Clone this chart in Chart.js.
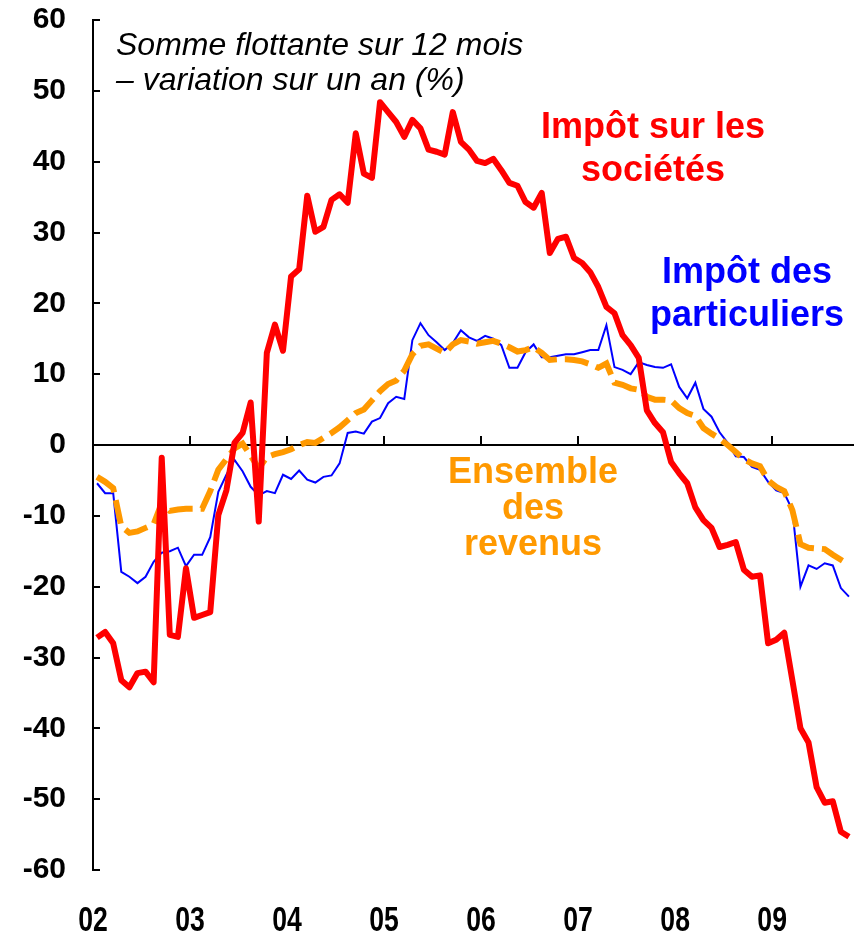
<!DOCTYPE html>
<html>
<head>
<meta charset="utf-8">
<script src="https://cdn.jsdelivr.net/npm/chart.js@4.4.0/dist/chart.umd.min.js"></script>
<style>
    body { margin: 0; background: #fff; }
</style>
</head>
<body>
<canvas id="taxChart" width="860" height="936"></canvas>
<script>
// monthly values, Jan 2002 onwards
const yearLabels = ['02', '03', '04', '05', '06', '07', '08', '09'];

const corporateTax = [
    -27.2, -26.4, -28, -33.2, -34.2, -32.2, -32, -33.5, -1.8, -26.8,
    -27.1, -17.4, -24.4, -24, -23.6, -9.9, -6.4, 0.3, 1.7, 6,
    -10.8, 13, 17, 13.3, 23.8, 24.8, 35.2, 30.1, 30.8, 34.6,
    35.4, 34.2, 44, 38.3, 37.7, 48.4, 47, 45.6, 43.5, 45.9,
    44.7, 41.7, 41.4, 41, 47, 42.8, 41.7, 40.1, 39.8, 40.4,
    38.8, 37, 36.6, 34.3, 33.5, 35.6, 27.1, 29.1, 29.4, 26.4,
    25.7, 24.4, 22.3, 19.5, 18.6, 15.5, 14.1, 12.3, 4.9, 3.1,
    1.8, -2.4, -4, -5.4, -8.8, -10.6, -11.7, -14.4, -14.1, -13.7,
    -17.6, -18.6, -18.4, -28, -27.5, -26.5, -33.2, -40, -42, -48.3,
    -50.5, -50.3, -54.6, -55.3
];

const personalTax = [
    -5.4, -6.8, -6.8, -17.9, -18.6, -19.5, -18.6, -16.5, -15.2, -15,
    -14.5, -17.1, -15.5, -15.5, -13, -6.6, -4.2, -2.1, -3.7, -5.9,
    -7.1, -6.5, -6.8, -4.2, -4.8, -3.6, -4.9, -5.3, -4.5, -4.3,
    -2.6, 1.7, 1.9, 1.6, 3.3, 3.8, 5.9, 6.8, 6.5, 14.8,
    17.2, 15.5, 14.5, 13.4, 14.4, 16.2, 15.2, 14.7, 15.4, 15,
    14.1, 10.9, 10.9, 13.1, 14.2, 12.4, 12.4, 12.6, 12.8, 12.8,
    13.1, 13.4, 13.4, 16.9, 11, 10.6, 10, 11.7, 11.3, 11,
    10.9, 11.4, 8.2, 6.6, 8.8, 5.1, 4, 1.8, 0.3, -1.6,
    -1.7, -3.1, -3.5, -5.2, -6.4, -6.8, -9.2, -20, -17, -17.5,
    -16.7, -17, -20.2, -21.4
];

const totalRevenue = [
    -4.5, -5.2, -6.1, -11.5, -12.4, -12.2, -11.7, -11.2, -8.2, -9.3,
    -9.1, -9, -9, -9, -6.5, -3.5, -2, -0.5, 0.2, -1.5,
    -3.3, -1.7, -1.3, -1, -0.6, 0, 0.4, 0.3, 1, 1.7,
    2.5, 3.5, 4.5, 5, 6.3, 7.6, 8.6, 9.1, 10.5, 12.8,
    14, 14.2, 13.6, 13, 14.2, 14.8, 14.6, 14.3, 14.5, 14.7,
    14.3, 13.8, 13.2, 13.4, 13.8, 13, 12, 12.1, 12.1, 12,
    11.8, 11.4, 10.9, 11.5, 8.8, 8.5, 8, 7.8, 6.8, 6.4,
    6.4, 6.3, 5.2, 4.5, 4.1, 2.4, 1.6, 0.9, 0, -1,
    -2, -2.6, -3, -5, -5.9, -6.5, -9.2, -14, -14.5, -14.6,
    -14.7, -15.5, -16.2, -16.9
];

// points sit mid-month, year ticks every 12 months
let toPoints = function (values) {
    return values.map((v, i) => ({x: i + 0.5, y: v}));
};

let yearTicks = function (scale) {
    scale.ticks = yearLabels.map((lbl, k) => ({value: k * 12}));
};

const textPlugin = {
    id: 'chartTexts',
    afterDraw(chart) {
        const ctx = chart.ctx;
        ctx.save();
        ctx.textBaseline = 'alphabetic';

        // year labels, narrow bold (drawn squeezed, no narrow font installed)
        let xScale = chart.scales.x;
        ctx.fillStyle = '#000';
        ctx.textAlign = 'center';
        ctx.font = 'bold 35px "Liberation Sans", Arial, sans-serif';
        yearLabels.forEach((lbl, k) => {
            let px = xScale.getPixelForValue(k * 12);
            ctx.save();
            ctx.translate(px, 931);
            ctx.scale(0.76, 1);
            ctx.fillText(lbl, 0, 0);
            ctx.restore();
        });

        ctx.textAlign = 'left';
        ctx.font = 'italic 32px "Liberation Sans", Arial, sans-serif';
        ctx.fillText('Somme flottante sur 12 mois', 116, 55);
        ctx.fillText('\u2013 variation sur un an (%)', 116, 90);

        ctx.textAlign = 'center';
        ctx.font = 'bold 36px "Liberation Sans", Arial, sans-serif';
        ctx.fillStyle = '#FF0000';
        ctx.fillText('Impôt sur les', 653, 138);
        ctx.fillText('sociétés', 653, 181);

        ctx.fillStyle = '#0000FF';
        ctx.fillText('Impôt des', 747, 283);
        ctx.fillText('particuliers', 747, 326);

        ctx.fillStyle = '#FF9900';
        ctx.fillText('Ensemble', 533, 483);
        ctx.fillText('des', 533, 519);
        ctx.fillText('revenus', 533, 555);
        ctx.restore();
    }
};

let canvas = document.getElementById('taxChart');
let taxChart = new Chart(canvas, {
    type: 'line',
    data: {
        datasets: [
            {
                label: 'Impôt sur les sociétés',
                data: toPoints(corporateTax),
                borderColor: '#FF0000',
                borderWidth: 6,
                borderJoinStyle: 'round',
                pointRadius: 0,
                tension: 0,
                fill: false
            },
            {
                label: 'Ensemble des revenus',
                data: toPoints(totalRevenue),
                borderColor: '#FF9900',
                borderWidth: 6,
                borderDash: [24, 8],
                pointRadius: 0,
                tension: 0,
                fill: false
            },
            {
                label: 'Impôt des particuliers',
                data: toPoints(personalTax),
                borderColor: '#0000FF',
                borderWidth: 2,
                pointRadius: 0,
                tension: 0,
                fill: false
            }
        ]
    },
    plugins: [textPlugin],
    options: {
        responsive: false,
        animation: false,
        devicePixelRatio: 1,
        layout: {padding: {left: 0, top: 20, right: 7, bottom: 0}},
        plugins: {
            legend: {display: false},
            tooltip: {enabled: false}
        },
        scales: {
            x: {
                type: 'linear',
                min: 0,
                max: 94,
                afterBuildTicks: yearTicks,
                afterFit: function (scale) { scale.height = 66; },
                ticks: {display: false},
                grid: {display: false, drawTicks: false},
                border: {display: false}
            },
            x0: {
                axis: 'x',
                type: 'linear',
                min: 0,
                max: 94,
                position: {y: 0},
                afterBuildTicks: yearTicks,
                ticks: {display: false},
                grid: {drawOnChartArea: false, drawTicks: true, tickLength: -10, color: '#000', lineWidth: 2},
                border: {color: '#000', width: 2}
            },
            y: {
                min: -60,
                max: 60,
                afterFit: function (scale) {
                    // tick padding only moves labels left, keep it out of the layout
                    scale.width = 93;
                    scale.paddingTop = 0;
                    scale.paddingBottom = 0;
                },
                ticks: {
                    stepSize: 10,
                    padding: 34,
                    color: '#000',
                    font: {family: '"Liberation Sans", Arial, sans-serif', weight: 'bold', size: 30}
                },
                grid: {drawOnChartArea: false, drawTicks: true, tickLength: -7, color: '#000', lineWidth: 2},
                border: {color: '#000', width: 2}
            }
        }
    }
});
</script>
</body>
</html>
